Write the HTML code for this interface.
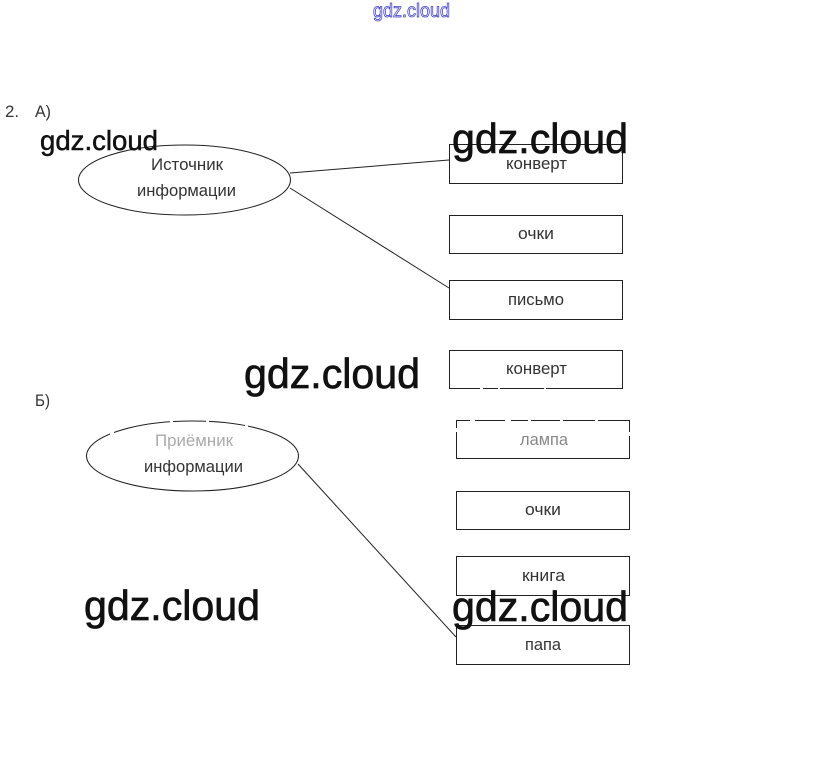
<!DOCTYPE html>
<html lang="ru">
<head>
<meta charset="utf-8">
<title>gdz.cloud</title>
<style>
html,body{margin:0;padding:0;background:#fff;width:823px;height:766px;overflow:hidden}
svg{display:block}
text{font-family:"Liberation Sans",sans-serif}
.t{font-size:16.5px;fill:#333}
.w{font-size:42px;fill:#111;stroke:#111;stroke-width:.7px}
.s{fill:none;stroke:#222;stroke-width:1}
.g{fill:#fff}
</style>
</head>
<body>
<svg width="823" height="766" viewBox="0 0 823 766" xmlns="http://www.w3.org/2000/svg">
<rect width="823" height="766" fill="#fff"/>
<text x="373" y="17" font-size="19" fill="#fff" stroke="#3c3cc8" stroke-width="0.8" textLength="77" lengthAdjust="spacingAndGlyphs">gdz.cloud</text>

<text class="t" x="5" y="117" textLength="14" lengthAdjust="spacingAndGlyphs">2.</text>
<text class="t" x="35" y="117" textLength="16" lengthAdjust="spacingAndGlyphs">А)</text>
<text class="t" x="35" y="406" textLength="15" lengthAdjust="spacingAndGlyphs">Б)</text>

<ellipse class="s" cx="184.5" cy="180" rx="106" ry="35"/>
<ellipse class="s" cx="192.5" cy="456" rx="106" ry="35"/>

<line class="s" x1="290" y1="173" x2="449" y2="160"/>
<line class="s" x1="290" y1="188" x2="449" y2="288"/>
<line class="s" x1="298" y1="464" x2="456" y2="637"/>

<rect class="s" x="449.5" y="144.5" width="173" height="39"/>
<rect class="s" x="449.5" y="215.5" width="173" height="38"/>
<rect class="s" x="449.5" y="280.5" width="173" height="39"/>
<rect class="s" x="449.5" y="350.5" width="173" height="38"/>
<rect class="s" x="456.5" y="420.5" width="173" height="38"/>
<rect class="s" x="456.5" y="491.5" width="173" height="38"/>
<rect class="s" x="456.5" y="556.5" width="173" height="39"/>
<rect class="s" x="456.5" y="625.5" width="173" height="39"/>

<text class="t" x="151" y="170" textLength="72" lengthAdjust="spacingAndGlyphs">Источник</text>
<text class="t" x="137" y="196" textLength="99" lengthAdjust="spacingAndGlyphs">информации</text>
<text class="t" x="155" y="446" textLength="78" lengthAdjust="spacingAndGlyphs" style="fill:#aaa">Приёмник</text>
<text class="t" x="144" y="472" textLength="99" lengthAdjust="spacingAndGlyphs">информации</text>

<text class="t" x="506" y="169" textLength="61" lengthAdjust="spacingAndGlyphs">конверт</text>
<text class="t" x="518" y="239" textLength="36" lengthAdjust="spacingAndGlyphs">очки</text>
<text class="t" x="508" y="305" textLength="56" lengthAdjust="spacingAndGlyphs">письмо</text>
<text class="t" x="506" y="374" textLength="61" lengthAdjust="spacingAndGlyphs">конверт</text>
<text class="t" x="520" y="445" textLength="48" lengthAdjust="spacingAndGlyphs" style="fill:#888">лампа</text>
<text class="t" x="525" y="515" textLength="36" lengthAdjust="spacingAndGlyphs">очки</text>
<text class="t" x="522" y="581" textLength="43" lengthAdjust="spacingAndGlyphs">книга</text>
<text class="t" x="525" y="650" textLength="36" lengthAdjust="spacingAndGlyphs">папа</text>

<!-- erased fragments of lines -->
<rect class="g" x="480" y="386" width="3" height="4"/>
<rect class="g" x="498" y="386" width="2" height="4"/>
<rect class="g" x="544" y="386" width="2" height="4"/>
<rect class="g" x="470" y="419" width="5" height="3"/>
<rect class="g" x="505" y="419" width="6" height="3"/>
<rect class="g" x="528" y="419" width="3" height="3"/>
<rect class="g" x="560" y="419" width="3" height="3"/>
<rect class="g" x="595" y="419" width="3" height="3"/>
<rect class="g" x="455" y="428" width="3" height="4"/>
<rect class="g" x="628" y="432" width="3" height="4"/>
<rect class="g" x="170" y="419" width="3" height="4"/>
<rect class="g" x="206" y="419" width="3" height="4"/>
<rect class="g" x="110" y="431" width="4" height="4"/>
<rect class="g" x="245" y="425" width="3" height="4"/>

<text class="w" x="40" y="150" style="font-size:28px;stroke-width:.5px" textLength="118" lengthAdjust="spacingAndGlyphs">gdz.cloud</text>
<text class="w" x="452" y="153" textLength="176" lengthAdjust="spacingAndGlyphs">gdz.cloud</text>
<text class="w" x="244" y="388" textLength="176" lengthAdjust="spacingAndGlyphs">gdz.cloud</text>
<text class="w" x="84" y="620" textLength="176" lengthAdjust="spacingAndGlyphs">gdz.cloud</text>
<text class="w" x="452" y="621" textLength="176" lengthAdjust="spacingAndGlyphs">gdz.cloud</text>
</svg>
</body>
</html>
